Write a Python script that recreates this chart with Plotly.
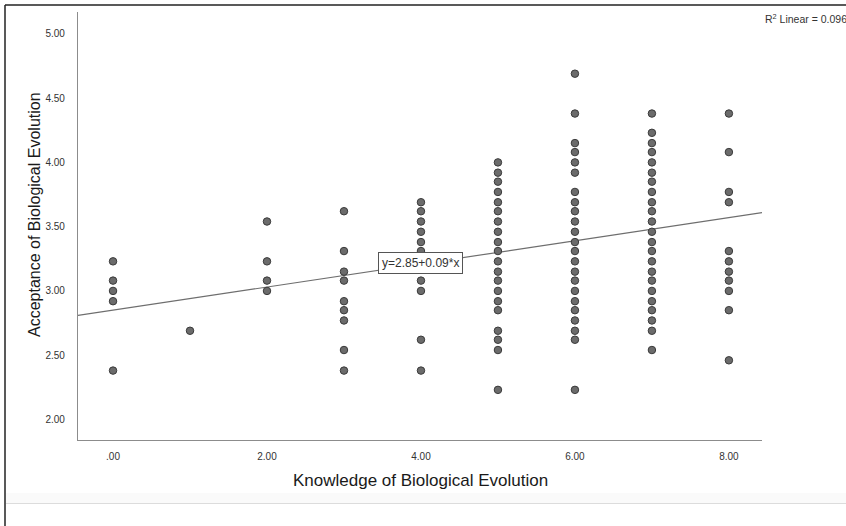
import plotly.graph_objects as go

# ---- data ----
knowledge_levels = [0, 1, 2, 3, 4, 5, 6, 7, 8]
acc_k0 = [3.23, 3.08, 3.00, 2.92, 2.38]
acc_k1 = [2.69]
acc_k2 = [3.54, 3.23, 3.08, 3.00]
acc_k3 = [3.62, 3.31, 3.15, 3.08, 2.92, 2.85, 2.77, 2.54, 2.38]
acc_k4 = [3.69, 3.62, 3.54, 3.46, 3.38, 3.31, 3.23, 3.08, 3.00, 2.62, 2.38]
acc_k5 = [4.00, 3.92, 3.85, 3.77, 3.69, 3.62, 3.54, 3.46, 3.38, 3.31, 3.23, 3.15,
          3.08, 3.00, 2.92, 2.85, 2.69, 2.62, 2.54, 2.23]
acc_k6 = [4.69, 4.38, 4.15, 4.08, 4.00, 3.92, 3.77, 3.69, 3.62, 3.54, 3.46, 3.38,
          3.31, 3.23, 3.15, 3.08, 3.00, 2.92, 2.85, 2.77, 2.69, 2.62, 2.23]
acc_k7 = [4.38, 4.23, 4.15, 4.08, 4.00, 3.92, 3.85, 3.77, 3.69, 3.62, 3.54, 3.46,
          3.38, 3.31, 3.23, 3.15, 3.08, 3.00, 2.92, 2.85, 2.77, 2.69, 2.54]
acc_k8 = [4.38, 4.08, 3.77, 3.69, 3.31, 3.23, 3.15, 3.08, 3.00, 2.85, 2.46]
acceptance_by_level = [acc_k0, acc_k1, acc_k2, acc_k3, acc_k4, acc_k5, acc_k6, acc_k7, acc_k8]

fit_intercept = 2.85
fit_slope = 0.09
r2_text = "R<sup>2</sup> Linear = 0.096"
fit_text = "y=2.85+0.09*x"

x_tickvals = [0, 2, 4, 6, 8]
x_ticktext = [".00", "2.00", "4.00", "6.00", "8.00"]
y_tickvals = [2.0, 2.5, 3.0, 3.5, 4.0, 4.5, 5.0]
y_ticktext = ["2.00", "2.50", "3.00", "3.50", "4.00", "4.50", "5.00"]

x_range = [-0.455, 8.43]
y_range = [1.84, 5.17]

# ---- build ----
xs, ys = [], []
for k, vals in zip(knowledge_levels, acceptance_by_level):
    xs += [k] * len(vals)
    ys += vals

W, H = 846, 526
L, R, T, B = 78, 84, 12, 86
pw, ph = W - L - R, H - T - B

def px(xp):
    return (xp - L) / pw

def py(yp):
    return (H - B - yp) / ph

fig = go.Figure()
fig.add_trace(go.Scatter(
    x=[x_range[0], x_range[1]],
    y=[fit_intercept + fit_slope * x_range[0], fit_intercept + fit_slope * x_range[1]],
    mode="lines", line=dict(color="#6e6e6e", width=1.2),
    hoverinfo="skip", showlegend=False, cliponaxis=True))
fig.add_trace(go.Scatter(
    x=xs, y=ys, mode="markers",
    marker=dict(size=7.5, color="#6b6b6b", line=dict(color="#3a3a3a", width=1)),
    showlegend=False))

font_family = "Liberation Sans, Arial, sans-serif"

fig.update_layout(
    width=W, height=H,
    margin=dict(l=L, r=R, t=T, b=B),
    paper_bgcolor="white", plot_bgcolor="white",
    font=dict(family=font_family, color="#333"),
    xaxis=dict(range=x_range, tickvals=x_tickvals, ticktext=x_ticktext,
               showgrid=False, zeroline=False, showline=True, linecolor="#8c8c8c",
               linewidth=1.2, ticks="", ticklabelstandoff=7,
               tickfont=dict(size=10, color="#333")),
    yaxis=dict(range=y_range, tickvals=y_tickvals, ticktext=y_ticktext,
               showgrid=False, zeroline=False, showline=True, linecolor="#8c8c8c",
               linewidth=1.2, ticks="", ticklabelstandoff=10,
               tickfont=dict(size=10, color="#333")),
    annotations=[
        dict(text="Knowledge of Biological Evolution", xref="paper", yref="paper",
             x=px(420), y=py(481), showarrow=False, xanchor="center", yanchor="middle",
             font=dict(size=17, color="#1a1a1a")),
        dict(text="Acceptance of Biological Evolution", xref="paper", yref="paper",
             x=px(34), y=py(215), showarrow=False, textangle=-90,
             xanchor="center", yanchor="middle",
             font=dict(size=16, color="#1a1a1a")),
        dict(text=r2_text, xref="paper", yref="paper", x=px(763), y=py(19),
             showarrow=False, xanchor="left", yanchor="middle",
             font=dict(size=10.5, color="#333")),
        dict(text=fit_text, x=4.0, y=fit_intercept + fit_slope * 4.0 + 0.005,
             showarrow=False, xanchor="center", yanchor="middle",
             bgcolor="white", bordercolor="#555", borderwidth=1, borderpad=3,
             font=dict(size=12, color="#333")),
    ],
    shapes=[
        dict(type="line", xref="paper", yref="paper", x0=px(5), x1=px(846),
             y0=py(5), y1=py(5), line=dict(color="#222", width=1.5)),
        dict(type="line", xref="paper", yref="paper", x0=px(5), x1=px(5),
             y0=py(5), y1=py(526), line=dict(color="#222", width=1.5)),
        dict(type="rect", xref="paper", yref="paper", x0=px(6), x1=px(846),
             y0=py(493), y1=py(503), line=dict(width=0), fillcolor="#fafafa",
             layer="below"),
        dict(type="line", xref="paper", yref="paper", x0=px(6), x1=px(846),
             y0=py(503.5), y1=py(503.5), line=dict(color="#dcdcdc", width=1)),
    ],
)

fig.write_html(
    "out.html",
    config={"displayModeBar": False},
    post_script="document.body.style.margin='0';document.body.style.overflow='hidden';",
)
